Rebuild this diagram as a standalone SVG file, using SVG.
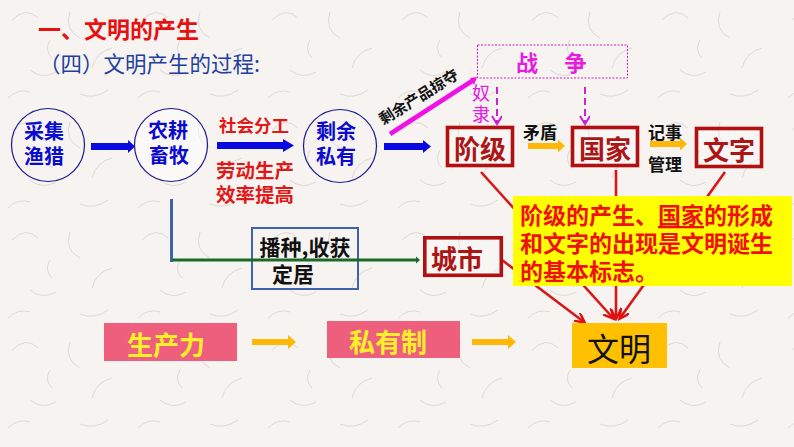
<svg xmlns="http://www.w3.org/2000/svg" width="794" height="447" viewBox="0 0 794 447">
<style>
text{font-family:"Noto Sans CJK SC","Noto Sans",sans-serif;text-anchor:middle;dominant-baseline:central}
.b{font-weight:700}
.circ{fill:none;stroke:#1a1a8c;stroke-width:1.2}
.ct{font-size:20px;font-weight:700;fill:#0a0ad0}
.rb{fill:#fff;fill-opacity:.25;stroke:#b01010;stroke-width:3.6}
.rt{font-size:26px;font-weight:700;fill:#aa1515}
.blk{font-size:17px;font-weight:700;fill:#111}
.red{font-size:19.5px;font-weight:700;fill:#e01818}
.yt{font-size:23px;font-weight:700;fill:#f01010;text-anchor:start}
.pk{fill:#ee5f7e}
.pt{font-size:26px;font-weight:700;fill:#fdf02a}
.bl{fill:#0808e0}
.or{fill:#ffb808}
.rl{stroke:#d81818;stroke-width:2.6;fill:none;marker-end:url(#rh)}
.dash{stroke:#d020d0;stroke-width:2;stroke-dasharray:7 4;fill:none;marker-end:url(#mh)}
</style>
<defs>
<marker id="rh" markerWidth="12" markerHeight="12" refX="9" refY="5" orient="auto" markerUnits="userSpaceOnUse"><path d="M0 0L10 5L0 10" fill="none" stroke="#e01010" stroke-width="2.4"/></marker>
<marker id="mh" markerWidth="12" markerHeight="12" refX="9" refY="5" orient="auto" markerUnits="userSpaceOnUse"><path d="M1 0L9 5L1 10" fill="none" stroke="#d020d0" stroke-width="2"/></marker>
<pattern id="tex" width="130" height="110" patternUnits="userSpaceOnUse">
<path d="M12 20q14 -14 26 -2M70 12q-6 18 10 26M112 48q-16 4 -20 20M30 70q12 10 26 2M8 98q10 -10 22 -6M80 94q14 6 28 -4M50 40q-6 10 2 18" fill="none" stroke="#dcd8d3" stroke-width="1"/>
</pattern>
</defs>
<rect width="794" height="447" fill="#f6f3f1"/>
<rect width="794" height="447" fill="url(#tex)"/>

<g id="title">
<text class="b" x="38" y="28" style="text-anchor:start;font-size:23px;fill:#e81010">一、文明的产生</text>
<text x="39" y="62" style="text-anchor:start;font-size:21.5px;fill:#1f3f9f">（四）文明产生的过程:</text>
</g>

<g id="connectors">
<path class="bl" d="M91 143H128V140L135 146.500L128 153V150H91Z"/>
<path class="bl" d="M217 142H283V139L294 145.500L283 152V149H217Z"/>
<path class="bl" d="M384 143H423V140L431 146.500L423 153V150H384Z"/>
<path d="M390 134L472 81" stroke="#f010e8" stroke-width="4.500" fill="none"/>
<path d="M477 77L470 78L474 85Z" fill="#f010e8"/>
<path class="dash" d="M497 87V124"/>
<path class="dash" d="M585 87V124"/>
<path class="or" d="M528 143H558V139.500L565 146L558 152.500V149H528Z"/>
<path class="or" d="M650 141H680V137.500L687 144L680 150.500V147H650Z"/>
<path class="rl" d="M481 172L613 318"/>
<path class="rl" d="M616 170V318"/>
<path class="rl" d="M725 172L620 318"/>
<path class="rl" d="M502 260L584 322"/>
<path d="M171.500 199V262" stroke="#3f63a8" stroke-width="3" fill="none"/>
<path class="or" d="M252 339H288V335L296 342L288 349V345H252Z"/>
<path class="or" d="M472 339H508V335L516 342L508 349V345H472Z"/>
</g>

<g id="label-plunder"><text class="b" transform="translate(418 96) rotate(-32)" style="font-size:15px;fill:#111">剩余产品掠夺</text></g>
<g id="label-division">
<text class="red" x="254" y="124" style="font-size:17.500px">社会分工</text>
<text class="red" x="255" y="169">劳动生产</text>
<text class="red" x="255" y="193">效率提高</text>
</g>
<g id="label-slave">
<text x="481" y="92" style="font-size:18px;fill:#e020e0">奴</text>
<text x="481" y="113" style="font-size:18px;fill:#e020e0">隶</text>
</g>
<g id="label-conflict"><text class="blk" x="540" y="131">矛盾</text></g>
<g id="label-record">
<text class="blk" x="665" y="131">记事</text>
<text class="blk" x="665" y="163">管理</text>
</g>

<g id="node-gather"><circle class="circ" cx="48" cy="145" r="36.500"/><text class="ct" x="44" y="130">采集</text><text class="ct" x="44" y="155">渔猎</text></g>
<g id="node-farm"><circle cx="171" cy="145" r="36.500" fill="#fff" fill-opacity=".5" stroke="#1a1a8c" stroke-width="1.200"/><text class="ct" x="168" y="129">农耕</text><text class="ct" x="169" y="154">畜牧</text></g>
<g id="node-surplus"><circle class="circ" cx="340" cy="146" r="36.500"/><text class="ct" x="336" y="130">剩余</text><text class="ct" x="336" y="155">私有</text></g>
<g id="node-war"><rect x="477.500" y="45" width="150" height="33" fill="none" stroke="#d020d0" stroke-width="1" stroke-dasharray="2 1.500"/><text class="b" y="61" style="font-size:22px;fill:#e81ce0"><tspan x="527">战</tspan><tspan x="575.500">争</tspan></text></g>
<g id="node-class"><rect class="rb" x="447.500" y="127.500" width="65" height="38"/><text class="rt" x="480" y="147">阶级</text></g>
<g id="node-state"><rect class="rb" x="572.500" y="127.500" width="65" height="38"/><text class="rt" x="605" y="147">国家</text></g>
<g id="node-writing"><rect class="rb" x="696.500" y="128.500" width="65" height="38"/><text class="rt" x="729" y="148">文字</text></g>

<g id="node-settle"><rect x="252" y="228" width="106" height="61" fill="none" stroke="#3f63a8" stroke-width="2"/><text class="b" x="305" y="246" style="font-size:21px;fill:#111">播种,收获</text><text class="b" x="293" y="273" style="font-size:21px;fill:#111">定居</text></g>
<g id="connector-green"><path d="M172 260H417" stroke="#1a6a2a" stroke-width="3" fill="none"/><path d="M416 256.500L420 260L416 263.500Z" fill="#1a6a2a"/></g>
<g id="node-city"><rect class="rb" x="424.800" y="237.800" width="76.500" height="37.500"/><text class="rt" x="457" y="257">城市</text></g>

<g id="node-note"><rect x="513" y="196" width="279" height="90" fill="#ffff00"/>
<text class="yt" x="520" y="214">阶级的产生、<tspan text-decoration="underline">国家</tspan>的形成</text>
<text class="yt" x="520" y="242">和文字的出现是文明诞生</text>
<text class="yt" x="520" y="270">的基本标志。</text></g>
<g id="node-civ"><rect x="572" y="323" width="95" height="45" fill="#ffc000"/><text x="619" y="347" style="font-size:32px;fill:#111">文明</text></g>
<g id="node-productivity"><rect class="pk" x="104" y="323" width="133" height="38"/><text class="pt" x="166" y="343">生产力</text></g>
<g id="node-private"><rect class="pk" x="327" y="321" width="133" height="37"/><text class="pt" x="388" y="340">私有制</text></g>
</svg>
